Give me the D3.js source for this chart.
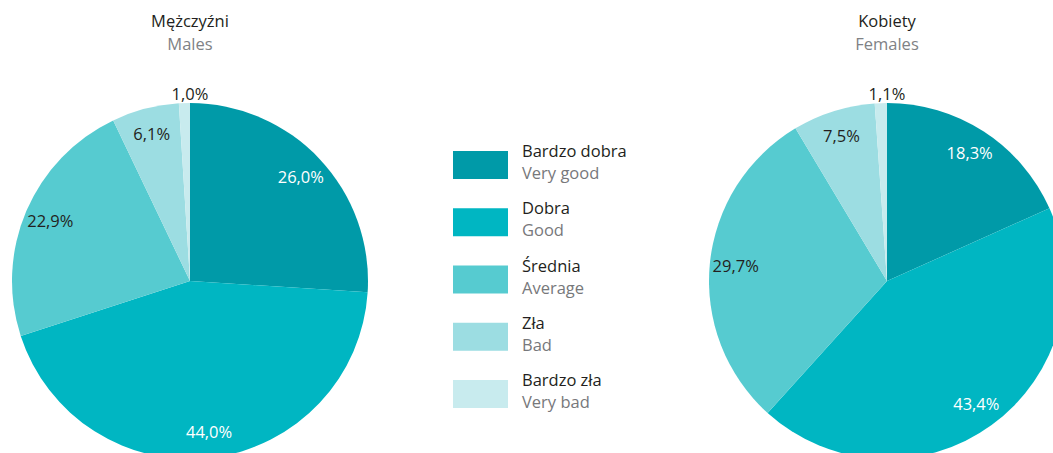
<!DOCTYPE html>
<html lang="pl">
    <head>
        <meta charset="utf-8">
        <title>Ocena stanu zdrowia</title>
        <script src="https://d3js.org/d3.v7.min.js"></script>
        <style type="text/css">
        body {
            margin: 0;
            background: #ffffff;
        }
        text {
            font-family: "Open Sans", sans-serif;
        }
        .title { font-size: 16.5px; fill: #231f20; }
        .subtitle { font-size: 16.5px; fill: #808285; }
        .pct { font-size: 16.5px; }
        .leg-pl { font-size: 16.5px; fill: #231f20; }
        .leg-en { font-size: 16.5px; fill: #77787b; }
        </style>
    </head>
    <body>
        <div id="vis"></div>
        <script type="text/javascript">

            const width = 1053;
            const height = 453;

            // categories
            const categoriesPl = ["Bardzo dobra", "Dobra", "Średnia", "Zła", "Bardzo zła"];
            const categoriesEn = ["Very good", "Good", "Average", "Bad", "Very bad"];
            const colors = ["#009aa8", "#00b6c2", "#56cbd0", "#9cdde2", "#c8ebee"];

            // series values (%)
            const malesValues = [26.0, 44.0, 22.9, 6.1, 1.0];
            const femalesValues = [18.3, 43.4, 29.7, 7.5, 1.1];

            const panels = [
                { title: "Mężczyźni", sub: "Males", values: malesValues, cx: 190 },
                { title: "Kobiety", sub: "Females", values: femalesValues, cx: 887 }
            ];

            const radius = 178;
            const cy = 281;

            const svg = d3.select("#vis")
                .append("svg")
                .attr("width", width)
                .attr("height", height);

            const pie = d3.pie().sort(null).value(d => d);
            const arc = d3.arc().innerRadius(0).outerRadius(radius);
            const labelArc = d3.arc().innerRadius(152).outerRadius(152);

            const fmt = v => v.toFixed(1).replace(".", ",") + "%";

            panels.forEach(p => {
                svg.append("text")
                    .attr("class", "title")
                    .attr("x", p.cx)
                    .attr("y", 27)
                    .attr("text-anchor", "middle")
                    .text(p.title);

                svg.append("text")
                    .attr("class", "subtitle")
                    .attr("x", p.cx)
                    .attr("y", 50)
                    .attr("text-anchor", "middle")
                    .text(p.sub);

                const g = svg.append("g")
                    .attr("transform", "translate(" + p.cx + "," + cy + ")");

                const slices = pie(p.values);

                g.selectAll("path")
                    .data(slices)
                    .enter()
                    .append("path")
                    .attr("d", arc)
                    .attr("fill", (d, i) => colors[i]);

                g.selectAll(".pct")
                    .data(slices)
                    .enter()
                    .append("text")
                    .attr("class", "pct")
                    .attr("transform", (d, i) => {
                        let c = labelArc.centroid(d);
                        // smallest slice label sits just above the pie
                        if (i === 4) c = [0, -radius - 9];
                        return "translate(" + c[0] + "," + c[1] + ")";
                    })
                    .attr("dy", "0.35em")
                    .attr("text-anchor", "middle")
                    .attr("fill", (d, i) => i < 2 ? "#ffffff" : "#231f20")
                    .text(d => fmt(d.data));
            });

            // legend
            const legY = d3.scaleLinear().domain([0, 4]).range([151, 380]);

            const leg = svg.append("g");

            const items = leg.selectAll(".item")
                .data(categoriesPl)
                .enter()
                .append("g")
                .attr("transform", (d, i) => "translate(453," + legY(i) + ")");

            items.append("rect")
                .attr("width", 55)
                .attr("height", 28)
                .attr("fill", (d, i) => colors[i]);

            items.append("text")
                .attr("class", "leg-pl")
                .attr("x", 69)
                .attr("y", 6)
                .text(d => d);

            items.append("text")
                .attr("class", "leg-en")
                .attr("x", 69)
                .attr("y", 28)
                .text((d, i) => categoriesEn[i]);

        </script>
    </body>
</html>
